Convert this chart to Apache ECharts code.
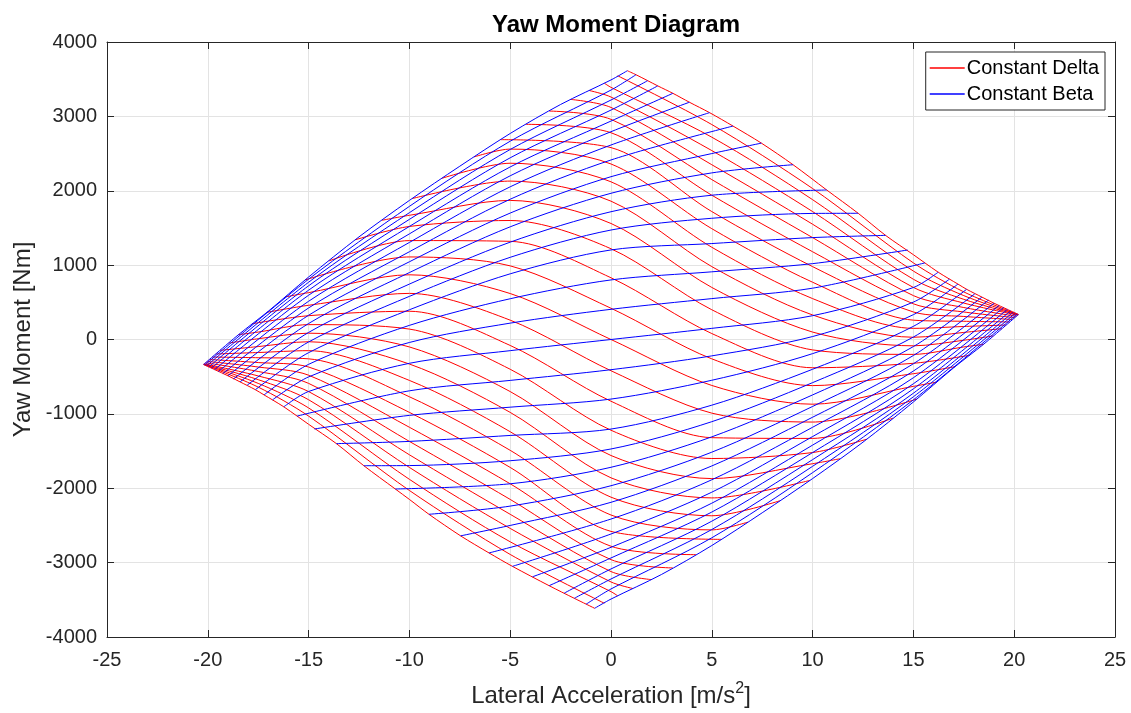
<!DOCTYPE html>
<html><head><meta charset="utf-8">
<script src="https://cdn.jsdelivr.net/npm/echarts@6/dist/echarts.min.js"></script>
<style>html,body{margin:0;padding:0;background:#fff}#c{width:1131px;height:713px}</style>
</head><body><div id="c"></div>
<script>
// ---- Constant Delta (red) lines: [lateral acc, yaw moment] ----
const R00=[[-20.21,-336],[-19.66,-405],[-19,-488],[-18.4,-570],[-17.64,-675],[-17.21,-745],[-16.79,-812],[-16.23,-905],[-15.57,-1030],[-15,-1140],[-13.62,-1400],[-12.26,-1697],[-10.7,-2010],[-10,-2150],[-9.03,-2350],[-7.46,-2640],[-6.05,-2870],[-4.89,-3050],[-3.07,-3310],[-1.82,-3480],[-0.81,-3614]];
const R01=[[-20.205,-335],[-17.5,-640],[-15,-1030],[-10,-2030],[-5,-2890],[-0.33,-3546]];
const R02=[[-20.2,-333],[-17.5,-590],[-15,-920],[-10,-1880],[-5,-2720],[0,-3390],[0.33,-3446]];
const R03=[[-20.19,-331],[-17.5,-540],[-15,-810],[-10,-1720],[-5,-2540],[0,-3260],[1.08,-3348]];
const R04=[[-20.17,-327],[-17.5,-490],[-15,-700],[-10,-1550],[-5,-2350],[0,-3120],[1.99,-3228]];
const R05=[[-20.11,-313],[-17.5,-430],[-15,-590],[-10,-1370],[-5,-2150],[0,-2960],[3.07,-3072]];
const R06=[[-20.03,-294],[-17.5,-370],[-15,-480],[-10,-1180],[-5,-1940],[0,-2780],[4.22,-2893]];
const R07=[[-19.92,-269],[-17.5,-310],[-15,-370],[-10,-980],[-5,-1720],[0,-2580],[5.47,-2687]];
const R08=[[-19.78,-236],[-17.5,-245],[-15,-260],[-10,-770],[-5,-1490],[0,-2360],[5,-2560],[6.79,-2455]];
const R09=[[-19.6,-195],[-17.5,-175],[-15,-150],[-10,-550],[-5,-1240],[0,-2120],[5,-2370],[8.38,-2168]];
const R10=[[-19.39,-146],[-17.5,-95],[-15,-30],[-10,-330],[-5,-980],[0,-1860],[5,-2130],[9.87,-1894]];
const R11=[[-18.97,-49],[-17.5,10],[-15,85],[-10,-100],[-5,-700],[0,-1560],[5,-1870],[10,-1670],[11.36,-1603]];
const R12=[[-18.48,65],[-17.5,100],[-15,200],[-10,140],[-5,-400],[0,-1220],[5,-1600],[10,-1520],[12.68,-1341]];
const R13=[[-17.81,211],[-15,320],[-10,380],[-5,-80],[0,-830],[5,-1320],[10,-1330],[14,-1056]];
const R14=[[-17.07,365],[-15,460],[-10,620],[-5,260],[0,-420],[5,-990],[10,-1110],[15.17,-801]];
const R15=[[-16.16,573],[-15,630],[-10,870],[-5,618],[0,0],[5,-618],[10,-870],[15,-630],[16.16,-573]];
const R16=[[-15.17,801],[-10,1110],[-5,990],[0,420],[5,-260],[10,-620],[15,-460],[17.07,-365]];
const R17=[[-14,1056],[-10,1330],[-5,1320],[0,830],[5,80],[10,-380],[15,-320],[17.81,-211]];
const R18=[[-12.68,1341],[-10,1520],[-5,1600],[0,1220],[5,400],[10,-140],[15,-200],[17.5,-100],[18.48,-65]];
const R19=[[-11.36,1603],[-10,1670],[-5,1870],[0,1560],[5,700],[10,100],[15,-85],[17.5,-10],[18.97,49]];
const R20=[[-9.87,1894],[-5,2130],[0,1860],[5,980],[10,330],[15,30],[17.5,95],[19.39,146]];
const R21=[[-8.38,2168],[-5,2370],[0,2120],[5,1240],[10,550],[15,150],[17.5,175],[19.6,195]];
const R22=[[-6.79,2455],[-5,2560],[0,2360],[5,1490],[10,770],[15,260],[17.5,245],[19.78,236]];
const R23=[[-5.47,2687],[0,2580],[5,1720],[10,980],[15,370],[17.5,310],[19.92,269]];
const R24=[[-4.22,2893],[0,2780],[5,1940],[10,1180],[15,480],[17.5,370],[20.03,294]];
const R25=[[-3.07,3072],[0,2960],[5,2150],[10,1370],[15,590],[17.5,430],[20.11,313]];
const R26=[[-1.99,3228],[0,3120],[5,2350],[10,1550],[15,700],[17.5,490],[20.17,327]];
const R27=[[-1.08,3348],[0,3260],[5,2540],[10,1720],[15,810],[17.5,540],[20.19,331]];
const R28=[[-0.33,3446],[0,3390],[5,2720],[10,1880],[15,920],[17.5,590],[20.2,333]];
const R29=[[0.33,3546],[5,2890],[10,2030],[15,1030],[17.5,640],[20.205,335]];
const R30=[[0.81,3614],[1.24,3560],[1.82,3480],[2.32,3410],[3.07,3310],[3.89,3190],[4.89,3050],[6.05,2870],[7.46,2640],[9.03,2350],[10.7,2010],[12.26,1697],[13.62,1400],[15,1140],[15.57,1030],[16.23,905],[16.79,812],[17.21,745],[17.64,675],[18.4,570],[19,488],[19.66,405],[20.21,336]];

// ---- Constant Beta (blue) lines ----
const B00=[[-20.21,-336],[-18.5,60],[-17,380],[-15,840],[-12.5,1380],[-10,1870],[-7.5,2330],[-5,2770],[-2.5,3160],[0,3490],[0.81,3614]];
const B01=[[-20.15,-343],[-15,811],[-10,1790],[-5,2666],[0,3354],[1.24,3560]];
const B02=[[-20.06,-354],[-15,770],[-10,1705],[-5,2555],[0,3220],[1.82,3480]];
const B03=[[-19.95,-368],[-15,722],[-10,1615],[-5,2443],[0,3085],[2.32,3410]];
const B04=[[-19.82,-385],[-15,663],[-10,1520],[-5,2320],[0,2937],[3.07,3310]];
const B05=[[-19.66,-405],[-15,595],[-10,1420],[-5,2201],[0,2794],[3.89,3190]];
const B06=[[-19.47,-430],[-15,514],[-10,1305],[-5,2053],[0,2615],[4.89,3050]];
const B07=[[-19.25,-458],[-15,424],[-10,1180],[-5,1886],[0,2414],[6.05,2870]];
const B08=[[-19,-488],[-15,326],[-10,1045],[-5,1700],[0,2189],[5,2500],[7.46,2640]];
const B09=[[-18.72,-530],[-15,215],[-10,900],[-5,1515],[0,1966],[5,2240],[9.03,2350]];
const B10=[[-18.4,-570],[-15,95],[-10,745],[-5,1309],[0,1718],[5,1940],[10.7,2010]];
const B11=[[-18.05,-615],[-15,-33],[-10,580],[-5,1105],[0,1472],[5,1630],[10,1695],[12.26,1697]];
const B12=[[-17.64,-675],[-15,-177],[-10,400],[-5,883],[0,1204],[5,1290],[10,1370],[13.62,1400]];
const B13=[[-17.21,-745],[-15,-334],[-10,190],[-5,548],[0,801],[5,910],[10,1020],[14.71,1203]];
const B14=[[-16.79,-812],[-15,-503],[-10,-40],[-5,220],[0,406],[5,550],[10,690],[15.57,1030]];
const B15=[[-16.23,-905],[-15,-699],[-10,-320],[-5,-150],[0,0],[5,150],[10,320],[15,699],[16.23,905]];
const B16=[[-15.57,-1030],[-10,-690],[-5,-550],[0,-406],[5,-220],[10,40],[15,503],[16.79,812]];
const B17=[[-14.71,-1203],[-10,-1020],[-5,-910],[0,-801],[5,-548],[10,-190],[15,334],[17.21,745]];
const B18=[[-13.62,-1400],[-10,-1370],[-5,-1290],[0,-1204],[5,-883],[10,-400],[15,177],[17.64,675]];
const B19=[[-12.26,-1697],[-10,-1695],[-5,-1630],[0,-1472],[5,-1105],[10,-580],[15,33],[18.05,615]];
const B20=[[-10.7,-2010],[-5,-1940],[0,-1718],[5,-1309],[10,-745],[15,-95],[18.4,570]];
const B21=[[-9.03,-2350],[-5,-2240],[0,-1966],[5,-1515],[10,-900],[15,-215],[18.72,530]];
const B22=[[-7.46,-2640],[-5,-2500],[0,-2189],[5,-1700],[10,-1045],[15,-326],[19,488]];
const B23=[[-6.05,-2870],[0,-2414],[5,-1886],[10,-1180],[15,-424],[19.25,458]];
const B24=[[-4.89,-3050],[0,-2615],[5,-2053],[10,-1305],[15,-514],[19.47,430]];
const B25=[[-3.89,-3190],[0,-2794],[5,-2201],[10,-1420],[15,-595],[19.66,405]];
const B26=[[-3.07,-3310],[0,-2937],[5,-2320],[10,-1520],[15,-663],[19.82,385]];
const B27=[[-2.32,-3410],[0,-3085],[5,-2443],[10,-1615],[15,-722],[19.95,368]];
const B28=[[-1.82,-3480],[0,-3220],[5,-2555],[10,-1705],[15,-770],[20.06,354]];
const B29=[[-1.24,-3560],[0,-3354],[5,-2666],[10,-1790],[15,-811],[20.15,343]];
const B30=[[-0.81,-3614],[0,-3490],[2.5,-3160],[5,-2770],[7.5,-2330],[10,-1870],[12.5,-1380],[15,-840],[17,-380],[18.5,-60],[20.21,336]];

const constantDelta=[R00,R01,R02,R03,R04,R05,R06,R07,R08,R09,R10,R11,R12,R13,R14,R15,R16,R17,R18,R19,R20,R21,R22,R23,R24,R25,R26,R27,R28,R29,R30];
const constantBeta=[B00,B01,B02,B03,B04,B05,B06,B07,B08,B09,B10,B11,B12,B13,B14,B15,B16,B17,B18,B19,B20,B21,B22,B23,B24,B25,B26,B27,B28,B29,B30];

const seriesNames=['Constant Delta','Constant Beta'];
const xRange=[-25,25], xStep=5;
const yRange=[-4000,4000], yStep=1000;

const FONT='"Liberation Sans", Arial, Helvetica, sans-serif';
const INK='#262626';
const chart=echarts.init(document.getElementById('c'),null,{renderer:'canvas'});
const mk=(data,name,color)=>({type:'line',name,data,showSymbol:false,symbol:'none',smooth:0.3,
  lineStyle:{color,width:1},itemStyle:{color},silent:true,animation:false,z:color==='#0000ff'?3:2});
const series=[...constantDelta.map(d=>mk(d,seriesNames[0],'#ff0000')),...constantBeta.map(d=>mk(d,seriesNames[1],'#0000ff'))];
const baseX={type:'value',min:xRange[0],max:xRange[1],interval:xStep};
const baseY={type:'value',min:yRange[0],max:yRange[1],interval:yStep};
const plain=v=>String(v);
chart.setOption({
  animation:false,
  backgroundColor:'#fff',
  title:{text:'Yaw Moment Diagram',left:611,top:8,textAlign:'center',
    textStyle:{fontFamily:FONT,fontWeight:'bold',fontSize:24,color:'#000'}},
  legend:{data:seriesNames,orient:'vertical',right:26,top:52,icon:'rect',itemWidth:35,itemHeight:1.5,itemGap:4,
    padding:[5,6,5,4],borderColor:INK,borderWidth:1,backgroundColor:'#fff',
    textStyle:{fontFamily:FONT,fontSize:20,lineHeight:22,color:'#000',padding:[0,0,0,-3]}},
  grid:{left:107,right:16,top:42,bottom:76,containLabel:false},
  xAxis:[
    Object.assign({},baseX,{position:'bottom',
      name:'Lateral Acceleration [m/s{sup|2}]',nameLocation:'middle',nameGap:44,
      nameTextStyle:{fontFamily:FONT,fontSize:24,color:INK,rich:{sup:{fontFamily:FONT,fontSize:16,color:INK,verticalAlign:'bottom',padding:[0,0,14,0]}}},
      axisLine:{show:true,onZero:false,lineStyle:{color:INK,width:1}},
      axisTick:{show:true,inside:true,length:7,lineStyle:{color:INK}},
      axisLabel:{show:true,margin:13,fontFamily:FONT,fontSize:20,color:INK,formatter:plain},
      splitLine:{show:true,lineStyle:{color:'#e3e3e3',width:1}}}),
    Object.assign({},baseX,{position:'top',
      axisLine:{show:true,onZero:false,lineStyle:{color:INK,width:1}},
      axisTick:{show:true,inside:true,length:7,lineStyle:{color:INK}},
      axisLabel:{show:false},splitLine:{show:false}})
  ],
  yAxis:[
    Object.assign({},baseY,{position:'left',
      name:'Yaw Moment [Nm]',nameLocation:'middle',nameGap:61,
      nameTextStyle:{fontFamily:FONT,fontSize:24,color:INK},
      axisLine:{show:true,onZero:false,lineStyle:{color:INK,width:1}},
      axisTick:{show:true,inside:true,length:7,lineStyle:{color:INK}},
      axisLabel:{show:true,margin:10,fontFamily:FONT,fontSize:20,color:INK,formatter:plain},
      splitLine:{show:true,lineStyle:{color:'#e3e3e3',width:1}}}),
    Object.assign({},baseY,{position:'right',
      axisLine:{show:true,onZero:false,lineStyle:{color:INK,width:1}},
      axisTick:{show:true,inside:true,length:7,lineStyle:{color:INK}},
      axisLabel:{show:false},splitLine:{show:false}})
  ],
  series
});
</script></body></html>
